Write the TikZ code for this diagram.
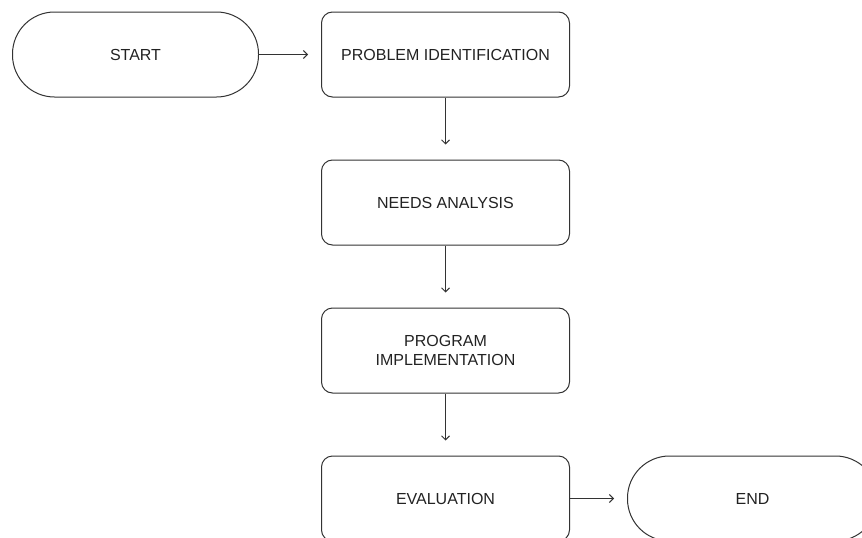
\documentclass[tikz,border=0pt]{standalone}
\usepackage{fontspec}
\setmainfont{Liberation Sans}
\usetikzlibrary{arrows.meta,positioning}
\definecolor{edge}{HTML}{333333}
\definecolor{ink}{HTML}{222222}

\tikzset{
  box/.style={draw=edge, line width=1pt, rounded corners=11pt, minimum width=248pt, minimum height=85pt, align=center, text=ink},
  terminal/.style={draw=edge, line width=1pt, rounded corners=42pt, minimum width=246pt, minimum height=85pt, text=ink},
  flow/.style={-{Straight Barb[length=4pt,width=8pt]}, draw=edge, line width=1pt, shorten >=13pt},
}

\begin{document}
\begin{tikzpicture}[x=1pt, y=1pt, font=\fontsize{16}{19}\selectfont]
\useasboundingbox (0,0) rectangle (862,-538);
% steps of the process
\node[terminal] (start) at (135.5,-54.5) {START};
\node[box, right=62pt of start] (ident) {PROBLEM IDENTIFICATION};
\node[box, below=62pt of ident] (needs) {NEEDS ANALYSIS};
\node[box, below=62pt of needs] (impl) {PROGRAM\\IMPLEMENTATION};
\node[box, below=62pt of impl] (eval) {EVALUATION};
\node[terminal, minimum width=250pt, right=57pt of eval] (end) {END};
% connectors
\draw[flow] (start) -- (ident);
\draw[flow, shorten >=15pt] (ident) -- (needs);
\draw[flow, shorten >=15pt] (needs) -- (impl);
\draw[flow, shorten >=15pt] (impl) -- (eval);
\draw[flow] (eval) -- (end);
\end{tikzpicture}
\end{document}
